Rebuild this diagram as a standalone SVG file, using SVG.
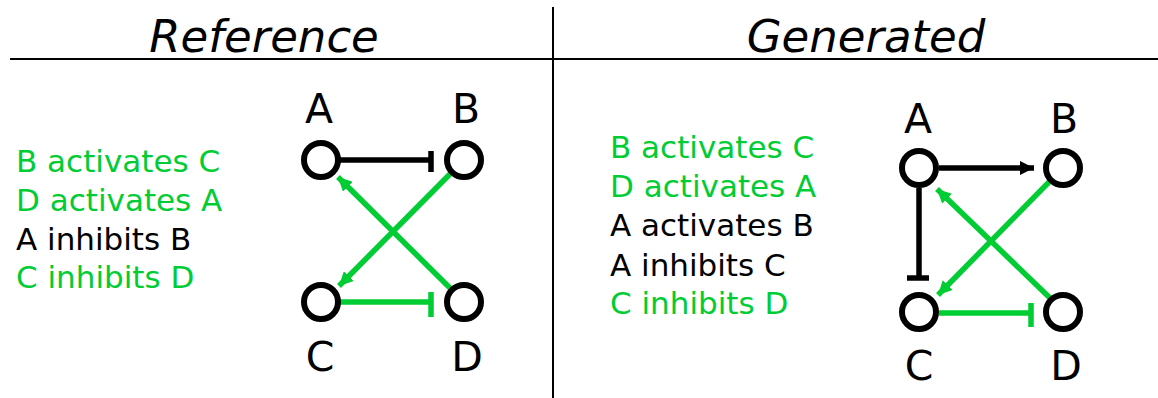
<svg xmlns="http://www.w3.org/2000/svg" width="1158" height="398" viewBox="0 0 1158 398">
  <style>
    .title { font-family: "DejaVu Sans", sans-serif; font-style: oblique; font-size: 45px; fill: #000; text-anchor: middle; }
    .rule { font-family: "DejaVu Sans", sans-serif; font-size: 31px; }
    .on { fill: #00cc33; }
    .off { fill: #000; }
    .label { font-family: "DejaVu Sans", sans-serif; font-size: 41px; fill: #000; text-anchor: middle; }
    .node { fill: #fff; stroke: #000; stroke-width: 6; }
    .edge { fill: none; stroke-width: 5.5; }
    .black { stroke: #000; }
    .green { stroke: #00cc33; }
  </style>
  <defs>
    <marker id="arrow-black" viewBox="0 0 14 14" refX="14" refY="7" markerWidth="14" markerHeight="14" markerUnits="userSpaceOnUse" orient="auto">
      <path d="M0,0 L14,7 L0,14 Z" fill="#000"/>
    </marker>
    <marker id="arrow-green" viewBox="0 0 14 14" refX="14" refY="7" markerWidth="14" markerHeight="14" markerUnits="userSpaceOnUse" orient="auto">
      <path d="M0,0 L14,7 L0,14 Z" fill="#00cc33"/>
    </marker>
  </defs>

  <rect width="1158" height="398" fill="#fff"/>

  <!-- panel frame -->
  <g id="frame">
    <line x1="10" y1="59" x2="1158" y2="59" stroke="#000" stroke-width="2"/>
    <line x1="553" y1="7" x2="553" y2="398" stroke="#000" stroke-width="2"/>
    <text class="title" x="264" y="52">Reference</text>
    <text class="title" x="866" y="52">Generated</text>
  </g>

  <!-- left panel: rule list -->
  <g id="rules-left" class="rule">
    <text class="on" x="16" y="172">B activates C</text>
    <text class="on" x="16" y="211">D activates A</text>
    <text class="off" x="16" y="250">A inhibits B</text>
    <text class="on" x="16" y="288">C inhibits D</text>
  </g>

  <!-- right panel: rule list -->
  <g id="rules-right" class="rule">
    <text class="on" x="610" y="158">B activates C</text>
    <text class="on" x="610" y="197">D activates A</text>
    <text class="off" x="610" y="236">A activates B</text>
    <text class="off" x="610" y="276">A inhibits C</text>
    <text class="on" x="610" y="314">C inhibits D</text>
  </g>

  <!-- connectors -->
  <g id="connectors">
    <!-- left: A inhibits B -->
    <line class="edge black" x1="340" y1="160" x2="431" y2="160"/>
    <line class="edge black" x1="431" y1="151" x2="431" y2="172"/>
    <!-- left: C inhibits D -->
    <line class="edge green" x1="340" y1="302" x2="431" y2="302"/>
    <line class="edge green" x1="431" y1="292" x2="431" y2="317"/>
    <!-- left: B activates C -->
    <line class="edge green" x1="451" y1="173" x2="339" y2="286" marker-end="url(#arrow-green)"/>
    <!-- left: D activates A -->
    <line class="edge green" x1="451" y1="289" x2="338" y2="177" marker-end="url(#arrow-green)"/>

    <!-- right: A activates B -->
    <line class="edge black" x1="939" y1="168" x2="1034" y2="168" marker-end="url(#arrow-black)"/>
    <!-- right: A inhibits C -->
    <line class="edge black" x1="919" y1="188" x2="919" y2="278"/>
    <line class="edge black" x1="907" y1="278" x2="929" y2="278"/>
    <!-- right: C inhibits D -->
    <line class="edge green" x1="939" y1="313" x2="1031" y2="313"/>
    <line class="edge green" x1="1031" y1="303" x2="1031" y2="327"/>
    <!-- right: B activates C -->
    <line class="edge green" x1="1050" y1="181" x2="938" y2="295" marker-end="url(#arrow-green)"/>
    <!-- right: D activates A -->
    <line class="edge green" x1="1050" y1="298" x2="937" y2="189" marker-end="url(#arrow-green)"/>
  </g>

  <!-- left panel nodes -->
  <g id="left-A">
    <circle class="node" cx="321" cy="160" r="17"/>
    <text class="label" x="319" y="123">A</text>
  </g>
  <g id="left-B">
    <circle class="node" cx="464" cy="160" r="17"/>
    <text class="label" x="466" y="123">B</text>
  </g>
  <g id="left-C">
    <circle class="node" cx="321" cy="302" r="17"/>
    <text class="label" x="320" y="371">C</text>
  </g>
  <g id="left-D">
    <circle class="node" cx="464" cy="302" r="17"/>
    <text class="label" x="467" y="371">D</text>
  </g>

  <!-- right panel nodes -->
  <g id="right-A">
    <circle class="node" cx="919" cy="168" r="17"/>
    <text class="label" x="918" y="133">A</text>
  </g>
  <g id="right-B">
    <circle class="node" cx="1063" cy="168" r="17"/>
    <text class="label" x="1064" y="133">B</text>
  </g>
  <g id="right-C">
    <circle class="node" cx="919" cy="312" r="17"/>
    <text class="label" x="919" y="380">C</text>
  </g>
  <g id="right-D">
    <circle class="node" cx="1063" cy="312" r="17"/>
    <text class="label" x="1066" y="380">D</text>
  </g>
</svg>
